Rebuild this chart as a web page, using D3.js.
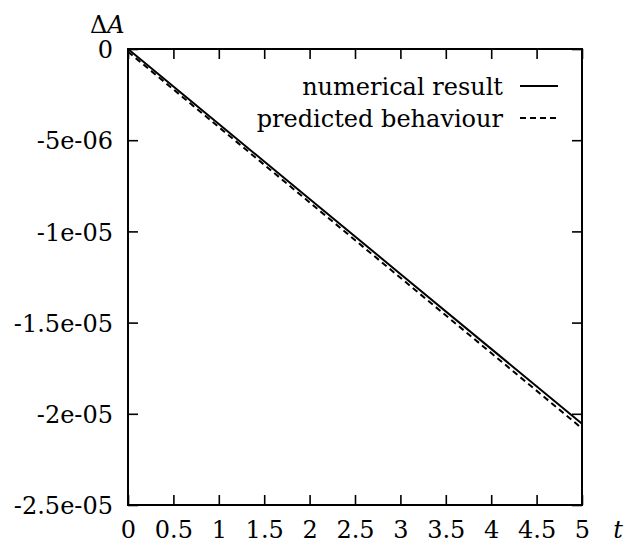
<!DOCTYPE html>
<html>
<head>
<meta charset="utf-8">
<script src="https://cdn.jsdelivr.net/npm/d3@7"></script>
<style>
  body { margin: 0; background: #fff; }
</style>
</head>
<body>
<svg id="chart"></svg>
<script>
'use strict';

// values
const tValues = [0, 1, 2, 3, 4, 5];
const numericalResult = [0, -4.11e-6, -8.22e-6, -1.233e-5, -1.644e-5, -2.055e-5];
const predictedBehaviour = [-1.5e-7, -4.28e-6, -8.41e-6, -1.254e-5, -1.667e-5, -2.080e-5];

const xTicks = [0, 0.5, 1, 1.5, 2, 2.5, 3, 3.5, 4, 4.5, 5];
const yTicks = [0, -5e-6, -1e-5, -1.5e-5, -2e-5, -2.5e-5];
const yTickLabels = ['0', '-5e-06', '-1e-05', '-1.5e-05', '-2e-05', '-2.5e-05'];

const seriesNames = ['numerical result', 'predicted behaviour'];

const W = 626;
const H = 543;
const margin = { top: 49, right: 44, bottom: 38, left: 128 };
const width = W - margin.left - margin.right;
const height = H - margin.top - margin.bottom;

const FONT = 24;
const FAMILY = 'DejaVu Serif';

const svg = d3.select('#chart')
  .attr('width', W)
  .attr('height', H);

const chart = svg.append('g')
  .attr('transform', 'translate(' + margin.left + ',' + margin.top + ')');

const xScale = d3.scaleLinear().domain([0, 5]).range([0, width]);
const yScale = d3.scaleLinear().domain([-2.5e-5, 0]).range([height, 0]);

// bottom axis, ticks pointing in
const xAxis = chart.append('g')
  .attr('transform', 'translate(0,' + height + ')')
  .call(d3.axisBottom(xScale).tickValues(xTicks).tickSize(-10).tickFormat(d3.format('')));
xAxis.selectAll('text')
  .attr('y', 33)
  .attr('dy', 0);

// top mirror ticks
chart.append('g')
  .call(d3.axisTop(xScale).tickValues(xTicks).tickSize(-10).tickFormat(''));

// left axis
const yAxis = chart.append('g')
  .call(d3.axisLeft(yScale).tickValues(yTicks).tickSize(-10).tickPadding(15)
    .tickFormat((d, i) => yTickLabels[i]));
yAxis.selectAll('text')
  .attr('dy', '0.36em');

// right mirror ticks
chart.append('g')
  .attr('transform', 'translate(' + width + ',0)')
  .call(d3.axisRight(yScale).tickValues(yTicks).tickSize(-10).tickFormat(''));

chart.selectAll('g').attr('font-family', null).attr('font-size', null);
chart.selectAll('.domain').remove();
chart.selectAll('.tick line').attr('stroke', '#000').attr('stroke-width', 1.6);

chart.append('rect')
  .attr('width', width)
  .attr('height', height)
  .attr('fill', 'none')
  .attr('stroke', '#000')
  .attr('stroke-width', 2);

// curves
const line = d3.line()
  .x((d, i) => xScale(tValues[i]))
  .y(d => yScale(d));

chart.append('path')
  .datum(numericalResult)
  .attr('d', line)
  .attr('fill', 'none')
  .attr('stroke', '#000')
  .attr('stroke-width', 2);

chart.append('path')
  .datum(predictedBehaviour)
  .attr('d', line)
  .attr('fill', 'none')
  .attr('stroke', '#000')
  .attr('stroke-width', 2)
  .attr('stroke-dasharray', '6,4');

// legend
const legend = svg.append('g');
const legendRows = [95, 127];
seriesNames.forEach((name, i) => {
  legend.append('text')
    .attr('x', 503)
    .attr('y', legendRows[i])
    .attr('text-anchor', 'end')
    .text(name);
  legend.append('line')
    .attr('x1', 520)
    .attr('x2', 558)
    .attr('y1', legendRows[i] - 9)
    .attr('y2', legendRows[i] - 9)
    .attr('stroke', '#000')
    .attr('stroke-width', 2)
    .attr('stroke-dasharray', i === 1 ? '6,4' : null);
});

// axis titles
const yTitle = svg.append('text')
  .attr('x', 90)
  .attr('y', 33);
yTitle.append('tspan').text('Δ');
yTitle.append('tspan').attr('font-style', 'italic').text('A');

svg.append('text')
  .attr('x', 618)
  .attr('y', 538)
  .attr('text-anchor', 'middle')
  .attr('font-style', 'italic')
  .text('t');

svg.selectAll('text')
  .attr('font-family', FAMILY)
  .attr('font-size', FONT)
  .attr('fill', '#000');
</script>
</body>
</html>
